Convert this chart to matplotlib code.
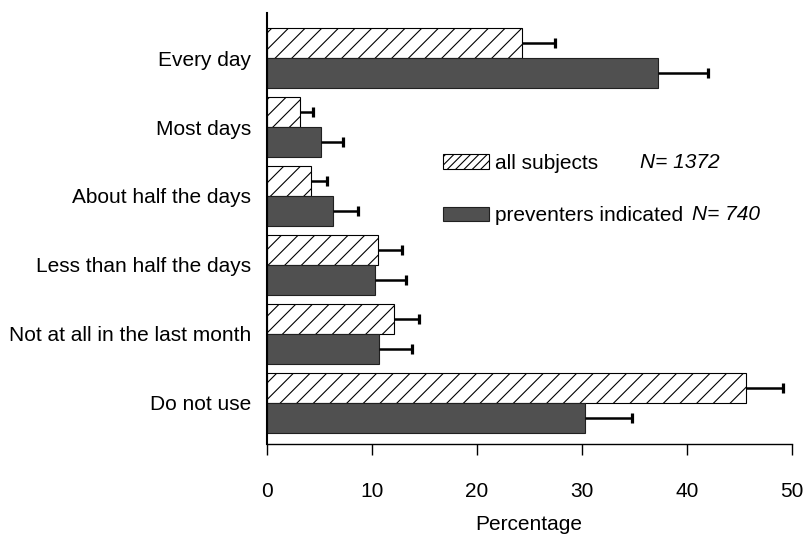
import matplotlib
matplotlib.use("Agg")
import matplotlib.pyplot as plt
from matplotlib.patches import Patch
import numpy as np

categories = ["Every day", "Most days", "About half the days",
              "Less than half the days", "Not at all in the last month", "Do not use"]
all_subjects = [24.3, 3.2, 4.2, 10.6, 12.1, 45.6]
all_subjects_err = [3.2, 1.2, 1.5, 2.3, 2.4, 3.6]
preventers = [37.3, 5.2, 6.3, 10.3, 10.7, 30.3]
preventers_err = [4.7, 2.1, 2.4, 3.0, 3.1, 4.5]
xticks = [0, 10, 20, 30, 40, 50]
legend_labels = ["all subjects", "preventers indicated"]
legend_n = ["N= 1372", "N= 740"]

plt.rcParams["font.family"] = ["Liberation Sans", "DejaVu Sans"]
plt.rcParams["hatch.linewidth"] = 0.8

W, H = 805, 536
fig = plt.figure(figsize=(W / 100, H / 100), dpi=100)
ax = fig.add_axes([266.7 / W, 1 - 444.3 / H, (791.7 - 266.7) / W, (444.3 - 13.3) / H])

n = len(categories)
ypos = np.arange(n)[::-1].astype(float)
h = 0.428
dark = "#505050"

ax.barh(ypos + h / 2, all_subjects, height=h, color="white", edgecolor="black",
        hatch="//", linewidth=0.8, zorder=2)
ax.barh(ypos - h / 2, preventers, height=h, color=dark, edgecolor="#202020",
        linewidth=0.8, zorder=2)

for vals, errs, off in [(all_subjects, all_subjects_err, h / 2),
                        (preventers, preventers_err, -h / 2)]:
    eb = ax.errorbar(vals, ypos + off, xerr=[np.zeros(n), errs], fmt="none",
                     ecolor="black", elinewidth=1.8, capsize=3.8, capthick=2.3, zorder=3)
    caps = eb[1]
    if len(caps) >= 1:
        caps[0].set_visible(False)

ax.set_xlim(0, 50)
ax.set_ylim(-0.599, 5.648)
ax.set_xticks(xticks)
ax.set_xticklabels([str(t) for t in xticks], fontsize=15)
ax.set_yticks(ypos)
ax.set_yticklabels(categories, fontsize=15)
ax.tick_params(axis="y", length=0, pad=11)
ax.tick_params(axis="x", length=8, width=1, pad=19, direction="out")
ax.set_xlabel("Percentage", fontsize=15, labelpad=10)

for s in ["top", "right"]:
    ax.spines[s].set_visible(False)
ax.spines["left"].set_linewidth(1.5)
ax.spines["bottom"].set_linewidth(1.0)

handles = [Patch(facecolor="white", edgecolor="black", hatch="////", linewidth=0.8),
           Patch(facecolor=dark, edgecolor="#202020", linewidth=0.8)]
leg = ax.legend(handles, legend_labels, loc="upper left", frameon=False,
                bbox_to_anchor=(443 / W, 1 - 154 / H), bbox_transform=fig.transFigure,
                fontsize=15, handlelength=2.2, handleheight=0.72, handletextpad=0.3,
                labelspacing=1.6, borderpad=0, borderaxespad=0)

fig.text(640 / W, 1 - 162 / H, legend_n[0], fontsize=15, style="italic", va="center", ha="left")
fig.text(692 / W, 1 - 214 / H, legend_n[1], fontsize=15, style="italic", va="center", ha="left")

fig.savefig("out.png", dpi=100)
